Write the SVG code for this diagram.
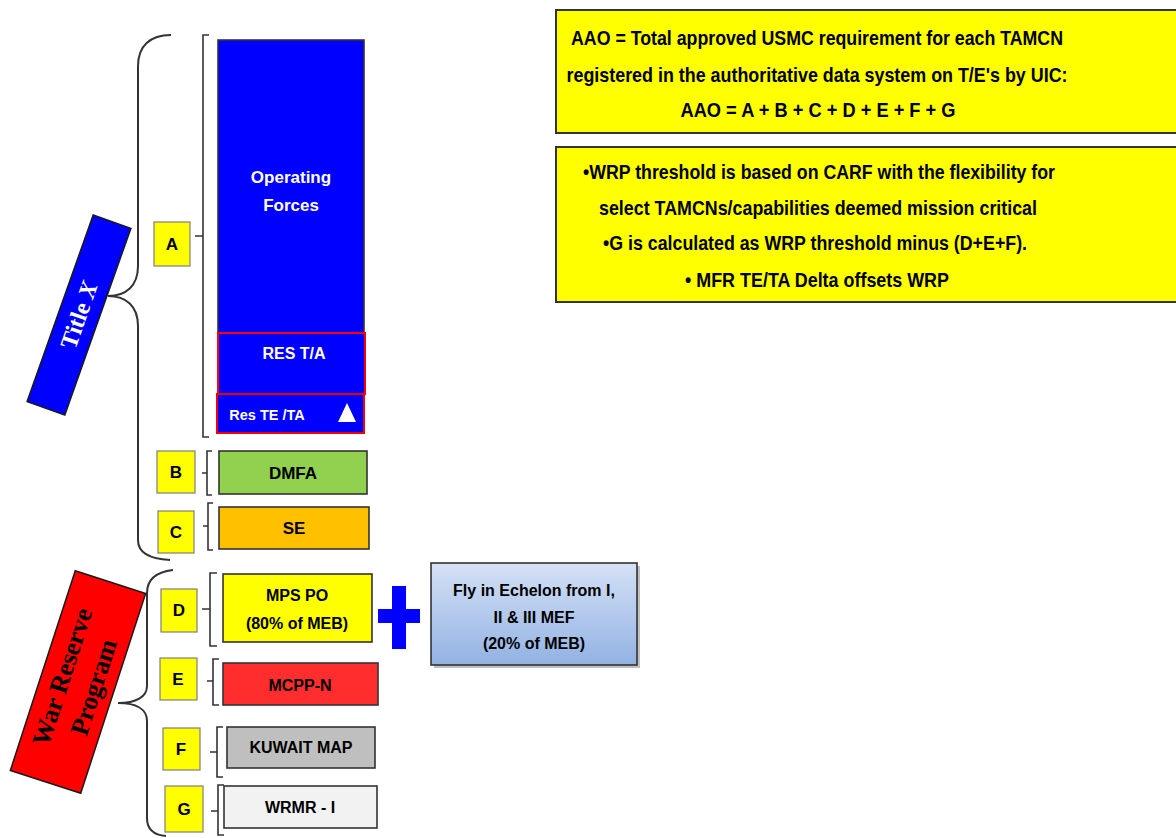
<svg xmlns="http://www.w3.org/2000/svg" width="1176" height="838" viewBox="0 0 1176 838">
<defs>
<linearGradient id="flyGrad" x1="0" y1="0" x2="0" y2="1">
<stop offset="0" stop-color="#d5e1f6"/>
<stop offset="1" stop-color="#92b2e3"/>
</linearGradient>
<style>
.t{font-family:"Liberation Sans",Arial,sans-serif;font-weight:bold;text-anchor:middle;}
.lbl{fill:#ffff00;stroke:#7f7f7f;stroke-width:1.2;}
.box{stroke:#333333;stroke-width:1.6;}
.br{fill:none;stroke:#333333;stroke-width:1.6;}
.brace{fill:none;stroke:#333333;stroke-width:2;}
.ser{font-family:"Liberation Serif","Times New Roman",serif;font-weight:bold;text-anchor:middle;}
</style>
</defs>
<rect width="1176" height="838" fill="#ffffff"/>

<g id="connectors">
<path class="brace" d="M171,35 C150,35 138,46 138,66 L138,266 C138,286 126,296 108,296 C126,296 138,306 138,326 L138,540 C138,553 150,559 170,560"/>
<path class="brace" d="M173,570 C156,572 147,579 147,593 L147,686 C147,697 136,703 118,703 C136,703 147,709 147,721 L147,818 C147,829 153,835 166,836"/>
<path class="br" d="M209,35 L203,35 L203,437 L209,437 M203,236 L195,236"/>
<path class="br" d="M212,451 L207,451 L207,495 L212,495 M207,473 L202,473"/>
<path class="br" d="M213,503 L208,503 L208,550 L213,550 M208,526 L203,526"/>
<path class="br" d="M217,573 L210,573 L210,646 L217,646 M210,609 L202,609"/>
<path class="br" d="M219,659 L213,659 L213,705 L219,705 M213,681 L207,681"/>
<path class="br" d="M223,727 L217,727 L217,777 L223,777 M217,752 L210,752"/>
<path class="br" d="M224,785 L218,785 L218,835 L224,835 M218,811 L211,811"/>
</g>

<g id="title-x">
<g transform="translate(79,315) rotate(-70.5)">
<rect x="-99" y="-20" width="198" height="40" fill="#0000ff" stroke="#1a1a1a" stroke-width="1.5"/>
<text class="ser" x="0" y="8" font-size="24" fill="#ffffff">Title <tspan font-style="italic">X</tspan></text>
</g>
</g>

<g id="war-reserve">
<g transform="translate(78,682) rotate(-72)">
<rect x="-105" y="-37" width="210" height="74" fill="#ff0000" stroke="#1a1a1a" stroke-width="1.5"/>
<text class="ser" x="0" y="-8" font-size="26" fill="#000000">War Reserve</text>
<text class="ser" x="0" y="25" font-size="26" fill="#000000">Program</text>
</g>
</g>

<g id="node-a">
<rect class="lbl" x="154" y="222" width="36" height="44"/>
<text class="t" x="172" y="250" font-size="17" fill="#000">A</text>
<rect class="box" x="218" y="40" width="146" height="393" fill="#0000ff"/>
<text class="t" x="291" y="183" font-size="17" fill="#fff">Operating</text>
<text class="t" x="291" y="211" font-size="17" fill="#fff">Forces</text>
<rect x="218" y="333" width="147" height="61" fill="#0000ff" stroke="#ff0000" stroke-width="2"/>
<text class="t" x="294" y="359" font-size="16" fill="#fff">RES T/A</text>
<rect x="217" y="394" width="147" height="39" fill="#0000ff" stroke="#ee0000" stroke-width="2"/>
<text class="t" x="267" y="420" font-size="14.5" fill="#fff">Res TE /TA</text>
<polygon points="347,403 356,422 338,422" fill="#ffffff"/>
</g>

<g id="node-b">
<rect class="lbl" x="157" y="451" width="38" height="42"/>
<text class="t" x="176" y="478" font-size="17" fill="#000">B</text>
<rect class="box" x="219" y="451" width="148" height="43" fill="#92d050"/>
<text class="t" x="293" y="479" font-size="17" fill="#000">DMFA</text>
</g>

<g id="node-c">
<rect class="lbl" x="158" y="511" width="36" height="42"/>
<text class="t" x="176" y="538" font-size="17" fill="#000">C</text>
<rect class="box" x="219" y="507" width="150" height="42" fill="#ffc000"/>
<text class="t" x="294" y="534" font-size="17" fill="#000">SE</text>
</g>

<g id="node-d">
<rect class="lbl" x="161" y="589" width="36" height="43"/>
<text class="t" x="179" y="616" font-size="17" fill="#000">D</text>
<rect class="box" x="223" y="574" width="149" height="68" fill="#ffff00"/>
<text class="t" x="297" y="601" font-size="16" fill="#000">MPS PO</text>
<text class="t" x="297" y="629" font-size="16" fill="#000">(80% of MEB)</text>
</g>

<g id="plus">
<rect x="392" y="586" width="14" height="63" fill="#0000ff"/>
<rect x="378" y="609" width="42" height="14" fill="#0000ff"/>
</g>

<g id="node-fly">
<rect x="434" y="566" width="206" height="102" fill="#7f7f7f" opacity="0.5"/>
<rect class="box" x="431" y="563" width="206" height="102" fill="url(#flyGrad)"/>
<text class="t" x="534" y="596" font-size="16" fill="#000">Fly in Echelon from I,</text>
<text class="t" x="534" y="623" font-size="16" fill="#000">II &amp; III MEF</text>
<text class="t" x="534" y="649" font-size="16" fill="#000">(20% of MEB)</text>
</g>

<g id="node-e">
<rect class="lbl" x="160" y="658" width="37" height="42" stroke="#333"/>
<text class="t" x="178" y="685" font-size="17" fill="#000">E</text>
<rect class="box" x="223" y="663" width="155" height="42" fill="#ff2d2d"/>
<text class="t" x="300" y="691" font-size="16" fill="#000">MCPP-N</text>
</g>

<g id="node-f">
<rect class="lbl" x="163" y="728" width="37" height="42"/>
<text class="t" x="181" y="755" font-size="17" fill="#000">F</text>
<rect class="box" x="227" y="727" width="148" height="41" fill="#bfbfbf"/>
<text class="t" x="301" y="753" font-size="16" fill="#000">KUWAIT MAP</text>
</g>

<g id="node-g">
<rect class="lbl" x="165" y="786" width="38" height="46"/>
<text class="t" x="184" y="815" font-size="17" fill="#000">G</text>
<rect class="box" x="224" y="786" width="153" height="42" fill="#f2f2f2"/>
<text class="t" x="300" y="813" font-size="16" fill="#000">WRMR - I</text>
</g>

<g id="aao-box">
<rect x="556" y="10" width="640" height="123" fill="#ffff00" stroke="#333" stroke-width="2"/>
<text class="t" x="817" y="45" font-size="21" fill="#000" textLength="492" lengthAdjust="spacingAndGlyphs">AAO = Total approved USMC requirement for each TAMCN</text>
<text class="t" x="817" y="82" font-size="21" fill="#000" textLength="501" lengthAdjust="spacingAndGlyphs">registered in the authoritative data system on T/E's by UIC:</text>
<text class="t" x="818" y="117" font-size="21" fill="#000" textLength="275" lengthAdjust="spacingAndGlyphs">AAO = A + B + C + D + E + F + G</text>
</g>

<g id="wrp-box">
<rect x="556" y="147" width="640" height="155" fill="#ffff00" stroke="#333" stroke-width="2"/>
<text class="t" x="819" y="179" font-size="21" fill="#000" textLength="472" lengthAdjust="spacingAndGlyphs">•WRP threshold is based on CARF with the flexibility for</text>
<text class="t" x="818" y="215" font-size="21" fill="#000" textLength="438" lengthAdjust="spacingAndGlyphs">select TAMCNs/capabilities deemed mission critical</text>
<text class="t" x="815" y="250" font-size="21" fill="#000" textLength="424" lengthAdjust="spacingAndGlyphs">•G is calculated as WRP threshold minus (D+E+F).</text>
<text class="t" x="817" y="287" font-size="21" fill="#000" textLength="264" lengthAdjust="spacingAndGlyphs">• MFR TE/TA Delta offsets WRP</text>
</g>
</svg>
